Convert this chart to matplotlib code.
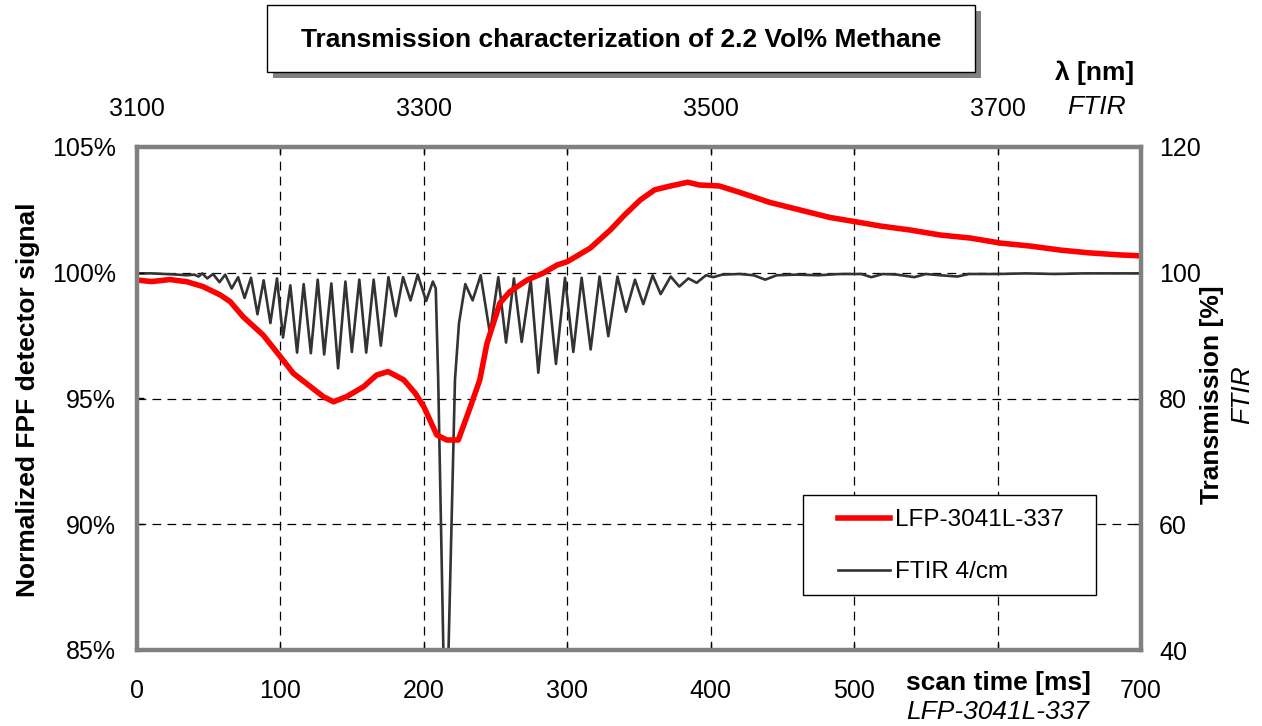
import matplotlib
matplotlib.use("Agg")
import matplotlib.pyplot as plt
from matplotlib.patches import Rectangle
from matplotlib.lines import Line2D

plt.rcParams['font.family'] = ['Liberation Sans', 'DejaVu Sans']

# LFP detector signal: scan time [ms] vs normalized signal [%]
lfp_t = [0, 10, 23, 35, 46, 58, 65, 74, 88, 100, 109, 121, 130, 137, 146, 158,
         167, 175, 186, 194, 200, 209, 216, 224, 232, 239, 244, 253, 260, 272,
         283, 293, 300, 316, 330, 340, 351, 361, 372, 384, 392, 406, 420, 441,
         462, 483, 504, 518, 539, 560, 581, 602, 623, 644, 664, 685, 700]
lfp_v = [99.71, 99.65, 99.73, 99.64, 99.45, 99.12, 98.85, 98.25, 97.52, 96.66,
         96.0, 95.47, 95.07, 94.87, 95.07, 95.47, 95.93, 96.07, 95.74, 95.21,
         94.67, 93.55, 93.35, 93.35, 94.6, 95.74, 97.19, 98.79, 99.25, 99.71,
         99.98, 100.31, 100.44, 100.98, 101.7, 102.3, 102.9, 103.3, 103.45,
         103.6, 103.49, 103.45, 103.2, 102.8, 102.5, 102.2, 102.0, 101.86,
         101.7, 101.5, 101.38, 101.18, 101.06, 100.9, 100.79, 100.71, 100.67]

# FTIR 4/cm: wavelength [nm] vs transmission [%]
ftir_wl = [3100, 3110, 3120, 3128, 3135, 3140, 3143, 3145.5, 3149, 3153,
           3157.5, 3161.5, 3166, 3170.5, 3175, 3179.5, 3184, 3188.3, 3193,
           3197.6, 3201.8, 3206.9, 3211.6, 3216.2, 3221.2, 3226, 3230.5,
           3235.5, 3240.2, 3245.3, 3249.8, 3255, 3259.8, 3265, 3270, 3275.3,
           3280.4, 3285.5, 3290.7, 3295.7, 3301.6, 3306.3, 3308.3, 3310,
           3315.2, 3321.7, 3324.5, 3328.9, 3334.0, 3339.6, 3346.1, 3351.9,
           3357.3, 3362.8, 3368.2, 3374.5, 3379.8, 3386.1, 3392.1, 3398.4,
           3404.2, 3410.0, 3416.3, 3422.5, 3428.6, 3435.0, 3440.9, 3447.2,
           3453.0, 3459.5, 3465.1, 3472.1, 3478.1, 3484.4, 3490.2, 3496.7,
           3501.8, 3508, 3520, 3530, 3538, 3546, 3560, 3575, 3590, 3605,
           3612, 3620, 3630, 3642, 3650, 3660, 3672, 3680, 3700, 3720, 3740,
           3760, 3780, 3800]
ftir_tr = [99.9, 99.9, 99.8, 99.7, 99.6, 99.7, 99.4, 99.9, 99.1, 99.8,
           98.5, 99.7, 97.5, 99.3, 96.0, 99.2, 93.4, 98.8, 92.0,
           99.1, 89.7, 98.0, 87.3, 98.2, 87.2, 98.9, 87.0,
           98.3, 84.8, 98.6, 87.4, 98.9, 87.3, 98.9, 88.4, 99.3,
           93.1, 99.3, 95.6, 99.7, 95.5, 98.6, 97.5, 83.0,
           21.0, 83.0, 92.0, 98.2, 95.6, 99.6, 90.3, 99.3,
           88.9, 99.1, 89.0, 98.9, 84.1, 99.1, 85.5, 99.2,
           87.4, 99.2, 87.8, 99.4, 89.9, 99.4, 93.8, 98.9,
           95.0, 99.6, 96.6, 99.4, 97.8, 99.1, 98.4, 99.6,
           99.3, 99.7, 99.8, 99.6, 98.9, 99.6, 99.7, 99.6, 99.8, 99.8,
           99.3, 99.8, 99.7, 99.3, 99.8, 99.6, 99.4, 99.8, 99.8, 99.9, 99.8,
           99.9, 99.9, 99.9]

bottom_ticks = [0, 100, 200, 300, 400, 500, 600, 700]
bottom_labels = ['0', '100', '200', '300', '400', '500', '', '700']
top_ticks = [3100, 3200, 3300, 3400, 3500, 3600, 3700, 3800]
top_labels = ['3100', '', '3300', '', '3500', '', '3700', '']
left_ticks = [85, 90, 95, 100, 105]
left_labels = ['85%', '90%', '95%', '100%', '105%']
right_ticks = [40, 60, 80, 100, 120]

W, H = 1262, 726
fig = plt.figure(figsize=(W / 100, H / 100), dpi=100)
rect = [137 / W, 1 - 650 / H, (1141 - 137) / W, (650 - 147) / H]
fs = 19      # titles / axis labels
fs_tick = 18
fs_leg = 17.5

# FTIR axes (top / right), drawn underneath
ax2 = fig.add_axes(rect)
ax2.plot(ftir_wl, ftir_tr, color='#333333', lw=1.9)
ax2.set_xlim(3100, 3800)
ax2.set_ylim(40, 120)
ax2.xaxis.tick_top()
ax2.yaxis.tick_right()
ax2.set_xticks(top_ticks)
ax2.set_xticklabels(top_labels)
ax2.set_yticks(right_ticks)
ax2.tick_params(direction='in', length=5, width=1, labelsize=fs_tick, color='black')
ax2.tick_params(axis='x', pad=19)
ax2.tick_params(axis='y', pad=13)
for s in ax2.spines.values():
    s.set_visible(False)
# dashed grid
for g in [3200, 3300, 3400, 3500, 3600, 3700]:
    ax2.axvline(g, color='black', lw=0.9, ls=(0, (7, 5)), zorder=0)
for g in [60, 80, 100]:
    ax2.axhline(g, color='black', lw=0.9, ls=(0, (7, 5)), zorder=0)

# LFP axes (bottom / left), on top
ax = fig.add_axes(rect)
ax.patch.set_visible(False)
ax.plot(lfp_t, lfp_v, color='#ff0000', lw=4.0)
ax.set_xlim(0, 700)
ax.set_ylim(85, 105)
ax.set_xticks(bottom_ticks)
ax.set_xticklabels(bottom_labels)
ax.set_yticks(left_ticks)
ax.set_yticklabels(left_labels)
ax.tick_params(direction='in', length=5, width=1, labelsize=fs_tick)
ax.tick_params(axis='x', pad=21)
ax.tick_params(axis='y', pad=15)
for s in ax.spines.values():
    s.set_color('#808080')
    s.set_linewidth(3.2)

# legend: box drawn separately, entries via legend
fig.patches.append(Rectangle((803 / W, 1 - 595 / H), (1096 - 803) / W, 100 / H,
                             transform=fig.transFigure, facecolor='white',
                             edgecolor='black', lw=1.0, zorder=5))
handles = [Line2D([], [], color='#ff0000', lw=4.0),
           Line2D([], [], color='#333333', lw=1.9)]
leg = fig.legend(handles, ['LFP-3041L-337', 'FTIR 4/cm'],
                 loc='upper left', bbox_to_anchor=(838 / W, 1 - 509 / H),
                 fontsize=fs_leg, frameon=False, handlelength=2.15,
                 handletextpad=0.2, borderpad=0, labelspacing=1.25,
                 borderaxespad=0)
leg.set_zorder(10)

# title box with shadow
fig.patches.append(Rectangle((273 / W, 1 - 78 / H), 708 / W, 67 / H,
                             transform=fig.transFigure, facecolor='#808080',
                             edgecolor='none', zorder=1))
fig.patches.append(Rectangle((267 / W, 1 - 72 / H), 708 / W, 67 / H,
                             transform=fig.transFigure, facecolor='white',
                             edgecolor='black', lw=1, zorder=2))
fig.text(621 / W, 1 - 40 / H, 'Transmission characterization of 2.2 Vol% Methane',
         ha='center', va='center', fontsize=fs, fontweight='bold')

# axis labels
fig.text(28 / W, 1 - 400 / H, 'Normalized FPF detector signal', rotation=90,
         ha='center', va='center', fontsize=fs, fontweight='bold')
fig.text(1212 / W, 1 - 395 / H, 'Transmission [%]', rotation=90,
         ha='center', va='center', fontsize=fs, fontweight='bold')
fig.text(1242 / W, 1 - 395 / H, 'FTIR', rotation=90,
         ha='center', va='center', fontsize=fs, style='italic')
fig.text(1095 / W, 1 - 73 / H, 'λ [nm]', ha='center', va='center',
         fontsize=fs, fontweight='bold')
fig.text(1097 / W, 1 - 107 / H, 'FTIR', ha='center', va='center',
         fontsize=fs, style='italic')
fig.text(998 / W, 1 - 683 / H, 'scan time [ms]', ha='center', va='center',
         fontsize=fs, fontweight='bold')
fig.text(998 / W, 1 - 712 / H, 'LFP-3041L-337', ha='center', va='center',
         fontsize=fs, style='italic')

fig.savefig('out.png', dpi=100)
